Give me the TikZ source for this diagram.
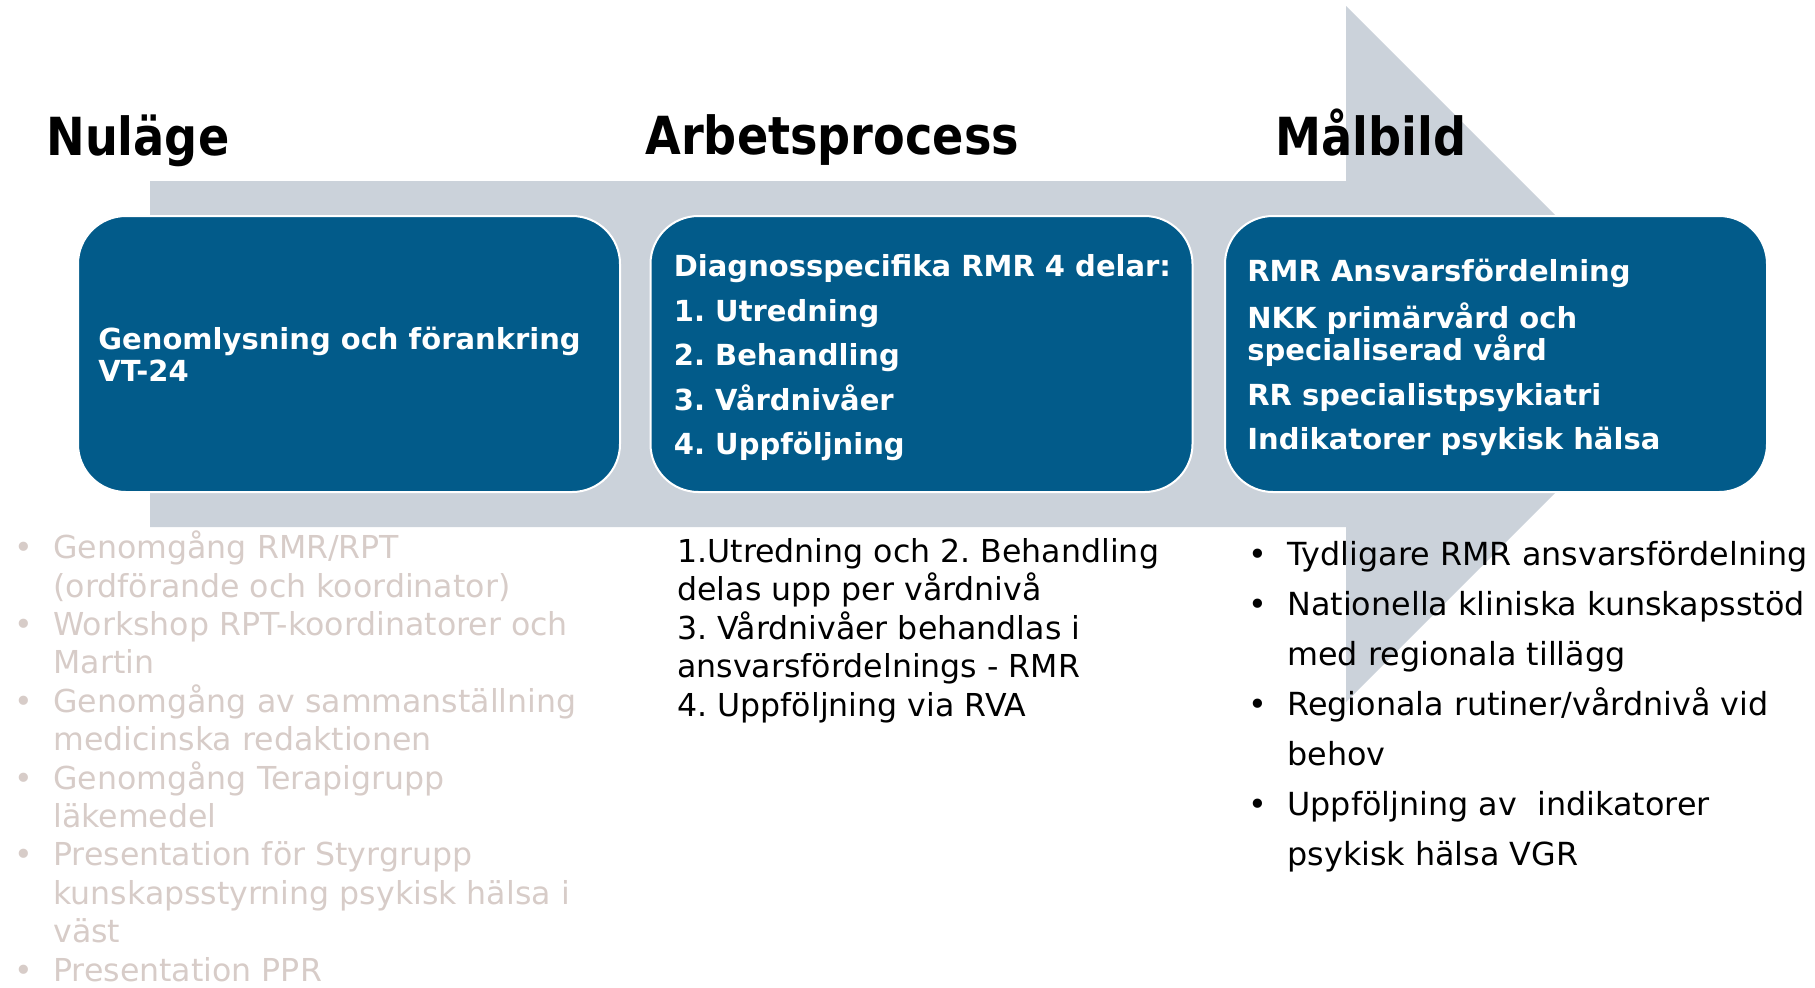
\documentclass[tikz,border=0pt]{standalone}
\usepackage{fontspec}
\setmainfont{DejaVu Sans}
\newfontfamily\headfont{DejaVu Sans}[FakeStretch=0.88]
\usepackage{tikz}
\definecolor{stage_blue}{RGB}{2,91,138}
\definecolor{arrow_gray}{RGB}{203,210,218}
\definecolor{note_gray}{RGB}{215,204,200}
\newcommand{\itm}{\makebox[19.5pt][l]{\textbullet}}
\newcommand{\ind}{\hspace*{19.5pt}}
\frenchspacing

\begin{document}
\begin{tikzpicture}[x=0.5pt,y=-0.5pt]
    \tikzstyle{stage}=[draw=white, line width=1pt, fill=stage_blue, rounded corners=24pt, minimum width=271pt, minimum height=138pt, inner sep=0pt]
    \tikzstyle{stagetext}=[text=white, align=left, inner sep=0pt, anchor=west]
    \tikzstyle{heading}=[font=\headfont\bfseries\fontsize{26.25}{30}\selectfont, anchor=base west, inner sep=0pt]
    \tikzstyle{note}=[font=\fontsize{15.8}{19.2}\selectfont, align=left, anchor=base west, inner sep=0pt]

    \useasboundingbox (0,0) rectangle (1815,987);

    % big arrow behind the stages
    \fill[arrow_gray] (150,181) -- (1346,181) -- (1346,6) -- (1694,354)
        -- (1346,702) -- (1346,527) -- (150,527) -- cycle;

    \node[heading] (nulage) at (46,155)  {Nuläge};
    \node[heading] (arbete) at (645,154) {Arbetsprocess};
    \node[heading] (malbild) at (1275,155) {Målbild};

    \node[stage] (nu)  at (349,354)   {};
    \node[stage] (arb) at (921.5,354) {};
    \node[stage] (mal) at (1496,354)  {};

    \node[stagetext, font=\bfseries\fontsize{14.5}{16}\selectfont] (nutext) at ([xshift=10.5pt]nu.west)
        {Genomlysning och förankring\\VT-24};
    \node[stagetext, font=\bfseries\fontsize{14.5}{22.25}\selectfont] (arbtext) at ([xshift=12pt,yshift=-2pt]arb.west)
        {Diagnosspecifika RMR 4 delar:\\1. Utredning\\2. Behandling\\3. Vårdnivåer\\4. Uppföljning};
    \node[stagetext, font=\bfseries\fontsize{14.5}{16}\selectfont] (maltext) at ([xshift=11.5pt,yshift=-1.5pt]mal.west)
        {RMR Ansvarsfördelning\\[6.5pt]NKK primärvård och\\specialiserad vård\\[6.5pt]RR specialistpsykiatri\\[6pt]Indikatorer psykisk hälsa};

    % notes under the arrow (placed by the baseline of their last line)
    \node[note, text=note_gray] (nunote) at (14,981)
        {\itm Genomgång RMR/RPT\\\ind (ordförande och koordinator)\\\itm Workshop RPT-koordinatorer och\\\ind Martin\\\itm Genomgång av sammanställning\\\ind medicinska redaktionen\\\itm Genomgång Terapigrupp\\\ind läkemedel\\\itm Presentation för Styrgrupp\\\ind kunskapsstyrning psykisk hälsa i\\\ind väst\\\itm Presentation PPR};
    \node[note] (arbnote) at (677,716)
        {1.Utredning och 2. Behandling\\delas upp per vårdnivå\\3. Vårdnivåer behandlas i\\ansvarsfördelnings - RMR\\4. Uppföljning via RVA};
    \node[note, font=\fontsize{15.9}{25}\selectfont] (malnote) at (1248,865)
        {\itm Tydligare RMR ansvarsfördelning\\\itm Nationella kliniska kunskapsstöd\\\ind med regionala tillägg\\\itm Regionala rutiner/vårdnivå vid\\\ind behov\\\itm Uppföljning av~ indikatorer\\\ind psykisk hälsa VGR};
\end{tikzpicture}
\end{document}
